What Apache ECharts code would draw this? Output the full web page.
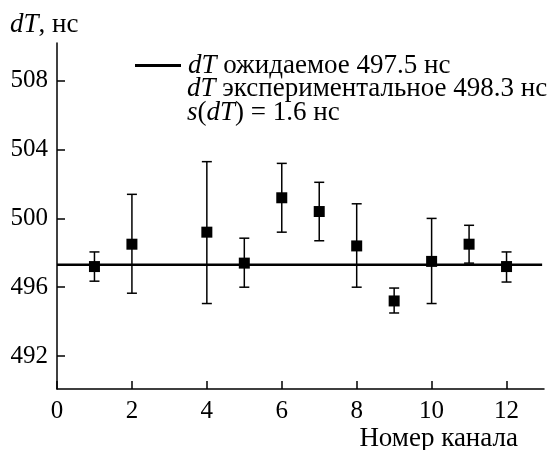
<!DOCTYPE html>
<html>
<head>
<meta charset="utf-8">
<script src="https://cdn.jsdelivr.net/npm/echarts@6/dist/echarts.min.js"></script>
<style>html,body{margin:0;padding:0;background:#fff;}#c{width:559px;height:450px;}</style>
</head>
<body>
<div id="c"></div>
<script>
const channels = [1, 2, 4, 5, 6, 7, 8, 9, 10, 11, 12];
const dtValues = [497.2, 498.5, 499.2, 497.4, 501.2, 500.4, 498.4, 495.2, 497.5, 498.5, 497.2];
const errLow = [496.35, 495.65, 495.05, 496.0, 499.2, 498.7, 496.0, 494.5, 495.05, 497.4, 496.3];
const errHigh = [498.05, 501.4, 503.3, 498.85, 503.2, 502.1, 500.85, 495.95, 500.0, 499.6, 498.05];
const expectedValue = 497.3;
const expectedSpan = [0, 12.95];
const xTicks = [0, 2, 4, 6, 8, 10, 12];
const yTicks = [492, 496, 500, 504, 508];

const FONT = 'Liberation Serif';
const FS = 25;
const TS = 27;
const rich = {
  i: { fontStyle: 'italic', fontFamily: FONT, fontSize: TS, color: '#000' },
  n: { fontFamily: FONT, fontSize: TS, color: '#000' },
  g: { width: 2 }
};
const txt = (s) => ({ text: s, rich: rich, fill: '#000', fontFamily: FONT, fontSize: TS });

const chart = echarts.init(document.getElementById('c'), null, { renderer: 'canvas' });
const option = {
  animation: false,
  backgroundColor: '#fff',
  textStyle: { fontFamily: FONT },
  grid: { left: 57, right: 15, top: 43, bottom: 61, containLabel: false },
  xAxis: {
    type: 'value', min: 0, max: 13,
    axisLine: { lineStyle: { color: '#000', width: 1.5 } },
    axisTick: { inside: true, length: 8, lineStyle: { color: '#000', width: 1.5 }, customValues: xTicks },
    axisLabel: { color: '#000', fontFamily: FONT, fontSize: FS, margin: 10, customValues: xTicks },
    splitLine: { show: false }
  },
  yAxis: {
    type: 'value', min: 490.08, max: 510.2,
    axisLine: { show: true, lineStyle: { color: '#000', width: 1.5 } },
    axisTick: { show: true, inside: true, length: 8, lineStyle: { color: '#000', width: 1.5 }, customValues: yTicks },
    axisLabel: { color: '#000', fontFamily: FONT, fontSize: FS, margin: 9, customValues: yTicks },
    splitLine: { show: false }
  },
  legend: {
    selectedMode: false,
    left: 130, top: 47,
    itemWidth: 46, itemHeight: 3,
    data: [{ name: 'expected', icon: 'rect' }],
    formatter: function () { return '{g|}{i|dT}{n| ожидаемое 497.5 нс}'; },
    textStyle: { color: '#000', fontFamily: FONT, fontSize: TS, rich: rich }
  },
  graphic: [
    { type: 'text', left: 10, top: 11, style: txt('{i|dT}{n|, нс}') },
    { type: 'text', left: 187, top: 75, style: txt('{i|dT}{n| экспериментальное 498.3 нс}') },
    { type: 'text', left: 187, top: 99, style: txt('{i|s}{n|(}{i|dT}{n|) = 1.6 нс}') },
    { type: 'text', right: 41, top: 425, style: txt('{n|Номер канала}') }
  ],
  series: [
    {
      name: 'errors', type: 'custom',
      data: channels.map((c, k) => [c, errLow[k], errHigh[k]]),
      renderItem: function (params, api) {
        const x = api.value(0);
        const top = api.coord([x, api.value(2)]);
        const bot = api.coord([x, api.value(1)]);
        const cap = 5;
        const st = { stroke: '#000', lineWidth: 1.5 };
        return {
          type: 'group', children: [
            { type: 'line', shape: { x1: top[0], y1: top[1], x2: bot[0], y2: bot[1] }, style: st },
            { type: 'line', shape: { x1: top[0] - cap, y1: top[1], x2: top[0] + cap, y2: top[1] }, style: st },
            { type: 'line', shape: { x1: bot[0] - cap, y1: bot[1], x2: bot[0] + cap, y2: bot[1] }, style: st }
          ]
        };
      },
      z: 2
    },
    {
      name: 'expected', type: 'line',
      data: expectedSpan.map(x => [x, expectedValue]),
      symbol: 'none',
      lineStyle: { color: '#000', width: 2.5 },
      itemStyle: { color: '#000' },
      z: 3
    },
    {
      name: 'points', type: 'scatter',
      data: channels.map((c, k) => [c, dtValues[k]]),
      symbol: 'rect', symbolSize: 11,
      itemStyle: { color: '#000', opacity: 1 },
      z: 4
    }
  ]
};
chart.setOption(option);
</script>
</body>
</html>
